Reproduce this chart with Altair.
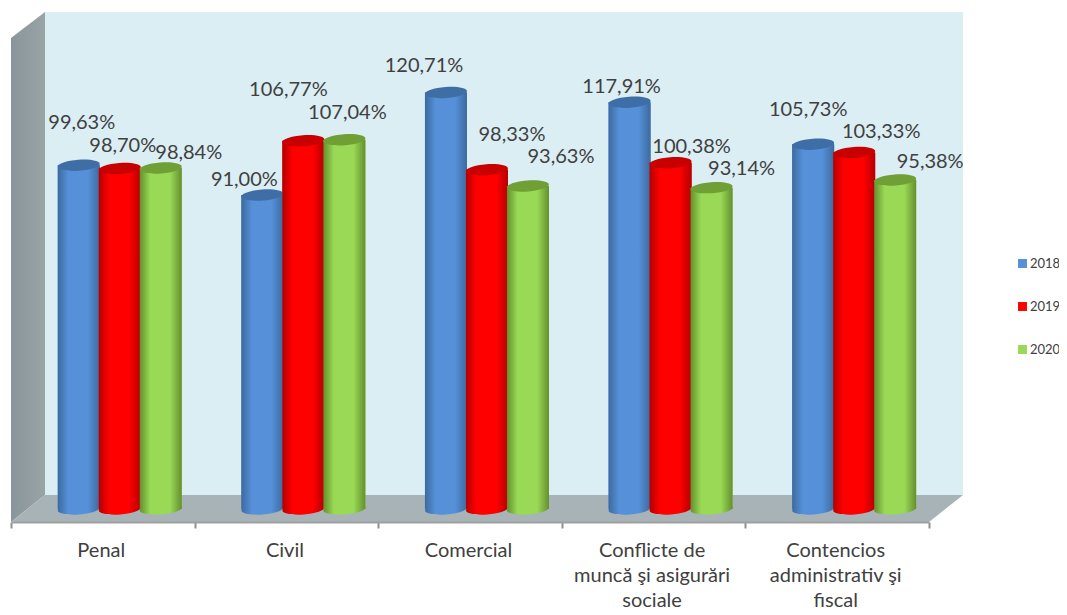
import altair as alt
import pandas as pd

categories = ["Penal", "Civil", "Comercial", "Conflicte de\nmuncă şi asigurări\nsociale",
              "Contencios\nadministrativ şi\nfiscal"]
series = ["2018", "2019", "2020"]
values_2018 = [99.63, 91.00, 120.71, 117.91, 105.73]
values_2019 = [98.70, 106.77, 98.33, 100.38, 103.33]
values_2020 = [98.84, 107.04, 93.63, 93.14, 95.38]

# hand placement of the value labels, relative to the top of each cylinder
label_dx = {"2018": [3, -18, -22, -8, -5], "2019": [3, -15, 25, 21, 27], "2020": [28, 3, 33, 30, 35]}
label_dy = {"2018": [-42, -15, -27, -15, -34], "2019": [-22, -51, -35, -16, -21], "2020": [-15, -27, -29, -19, -18]}

flat = {"2018": "#5590d8", "2019": "#ff0000", "2020": "#99d955"}
top = {"2018": "#3f6ea6", "2019": "#c80000", "2020": "#6f9f35"}
edge = {"2018": "#3d6a9f", "2019": "#b40000", "2020": "#64902e"}


def grad(s):
    return alt.LinearGradient(
        gradient="linear", x1=0, x2=1, y1=0, y2=0,
        stops=[
            alt.GradientStop(offset=0, color=edge[s]),
            alt.GradientStop(offset=0.25, color=flat[s]),
            alt.GradientStop(offset=0.72, color=flat[s]),
            alt.GradientStop(offset=1, color=edge[s]),
        ],
    )


rows = []
for s, vals in zip(series, [values_2018, values_2019, values_2020]):
    for c, v in zip(categories, vals):
        rows.append({"category": c, "series": s, "value": v,
                     "label": f"{v:.2f}".replace(".", ",") + "%", "zero": 0})
df = pd.DataFrame(rows)

X = alt.X("category:N", sort=categories, title=None,
          scale=alt.Scale(domain=categories, range=[3, 921], paddingInner=0, paddingOuter=0),
          axis=alt.Axis(labelAngle=0, labelExpr="split(datum.label, '\\n')", labelFont="Lato",
                        labelFontSize=20, labelColor="#404040", labelLineHeight=25,
                        labelPadding=12, labelLimit=400, labelOverlap=False, offset=-90,
                        labelOffset=-2,
                        tickBand="extent", tickSize=6, tickWidth=2, tickColor="#909090",
                        domainColor="#a0a0a0", domainWidth=2, grid=False, zindex=1))
XO = alt.XOffset("series:N", sort=series,
                 scale=alt.Scale(domain=series, paddingInner=0, paddingOuter=0.739, align=0.78))
Y = alt.Y("value:Q", title=None, axis=None, scale=alt.Scale(domain=[0, 140], range=[501, 18]))
Y0 = alt.Y("zero:Q", title=None, axis=None, scale=alt.Scale(domain=[0, 140], range=[501, 18]))

ELLIPSE = "M-21,1.5 A21,5.5 -4 1 1 21,-1.5 A21,5.5 -4 1 1 -21,1.5 Z"


def decor(path, fill):
    return alt.Chart(pd.DataFrame({"a": [0]})).mark_point(
        shape=path, size=4, filled=True, fill=fill, opacity=1, strokeWidth=0
    ).encode(x=alt.value(0), y=alt.value(0))


layers = [
    decor("M37,4 L955,4 L955,487 L37,487 Z", "#dbeef4"),
    decor("M3,30 L37,4 L37,487 L3,514 Z",
          alt.LinearGradient(gradient="linear", x1=0, x2=1, y1=0, y2=0,
                             stops=[alt.GradientStop(offset=0, color="#88959a"),
                                    alt.GradientStop(offset=1, color="#99a4a7")])),
    decor("M3,514 L37,487 L955,487 L921,514 Z", "#a7b3b6"),
    # flat bars carry the legend; the shaded cylinders are drawn over them
    alt.Chart(df).mark_bar(width=42).encode(
        x=X, xOffset=XO, y=Y,
        color=alt.Color("series:N", sort=series,
                        scale=alt.Scale(domain=series, range=[flat[s] for s in series]),
                        legend=alt.Legend(title=None, orient="none", legendX=1008, legendY=249,
                                          symbolType="square", symbolSize=80, symbolStrokeWidth=0,
                                          rowPadding=29, labelFont="Lato", labelFontSize=13,
                                          labelColor="#404040", labelOffset=1)),
    ),
]

for s in series:
    sub = df[df.series == s]
    layers.append(alt.Chart(sub).mark_point(shape=ELLIPSE, size=4, filled=True, fill=grad(s),
                                            opacity=1, strokeWidth=0)
                  .encode(x=X, xOffset=XO, y=Y0))
    layers.append(alt.Chart(sub).mark_bar(width=42, fill=grad(s)).encode(x=X, xOffset=XO, y=Y))
    layers.append(alt.Chart(sub).mark_point(shape=ELLIPSE, size=4, filled=True, fill=top[s],
                                            opacity=1, strokeWidth=0)
                  .encode(x=X, xOffset=XO, y=Y))

for s in series:
    sub = df[df.series == s].reset_index(drop=True)
    for i in range(len(sub)):
        layers.append(alt.Chart(sub.iloc[[i]]).mark_text(
            font="Lato", fontSize=20, color="#404040", align="center", baseline="middle",
            dx=label_dx[s][i], dy=label_dy[s][i]
        ).encode(x=X, xOffset=XO, y=Y, text="label:N"))

chart = alt.layer(*layers).properties(
    width=1051, height=604, padding=0, autosize=alt.AutoSizeParams(type="none")
).configure_view(stroke=None)
chart.save("out.html", embed_options={"renderer": "svg", "actions": False})
